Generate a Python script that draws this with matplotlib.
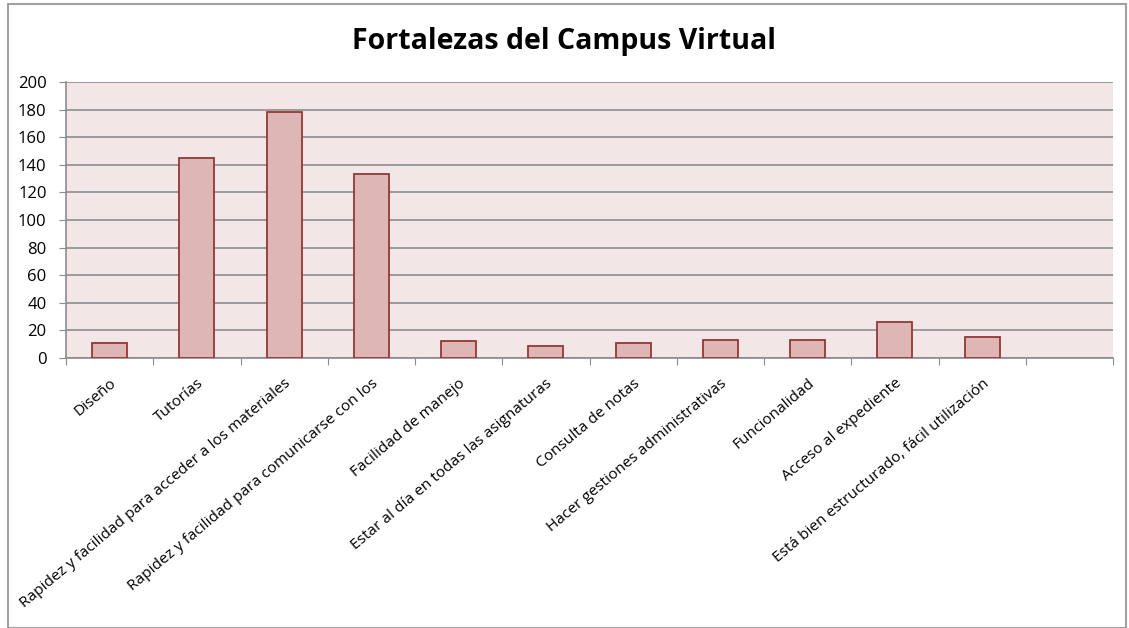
import numpy as np
import matplotlib.pyplot as plt
import matplotlib.transforms as mtransforms
from matplotlib.patches import Rectangle

plt.rcParams['font.family'] = ['Open Sans', 'DejaVu Sans']

categories = ["Diseño", "Tutorías", "Rapidez y facilidad para acceder a los materiales",
              "Rapidez y facilidad para comunicarse con los", "Facilidad de manejo",
              "Estar al día en todas las asignaturas", "Consulta de notas",
              "Hacer gestiones administrativas", "Funcionalidad", "Acceso al expediente",
              "Está bien estructurado, fácil utilización"]
values = [11, 145, 178, 133, 12, 9, 11, 13, 13, 26, 15]
n_slots = 12

fig = plt.figure(figsize=(11.29, 6.28), dpi=100)
ax = fig.add_axes([66/1129, 1 - 358/628, (1113-66)/1129, (358-82)/628])

# outer chart frame
fig.patches.append(Rectangle((8/1129, 0.0), 1 - 11/1129, 1 - 4/628, transform=fig.transFigure,
                             fill=False, edgecolor="#a0a0a0", linewidth=1.5))

x = np.arange(len(categories))
ax.set_facecolor("#f2e6e6")
ax.bar(x, values, width=0.4, color="#dfb6b6", edgecolor="#953735", linewidth=1.3, zorder=3)

ax.set_xlim(-0.5, n_slots - 0.5)
ax.set_ylim(0, 200)
ax.set_yticks(np.arange(0, 201, 20))
ax.yaxis.grid(True, color="#8c8c8c", linewidth=1.2, zorder=0)
ax.set_axisbelow(True)

ax.set_xticks(np.arange(-0.5, n_slots, 1.0))
ax.set_xticklabels([])
ax.set_xticks(x, minor=True)
ax.set_xticklabels(categories, minor=True, rotation=40, ha="right", rotation_mode="anchor",
                   fontsize=11.1)
shift = mtransforms.ScaledTranslation(4/100, 0, fig.dpi_scale_trans)
for lbl in ax.get_xticklabels(minor=True):
    lbl.set_transform(lbl.get_transform() + shift)
ax.tick_params(axis="x", which="minor", length=0, pad=13)
ax.tick_params(axis="x", which="major", length=5, color="#8c8c8c", direction="out")
ax.tick_params(axis="y", length=5, color="#8c8c8c", labelsize=12, pad=9)

for side in ["top", "right"]:
    ax.spines[side].set_visible(False)
for side in ["left", "bottom"]:
    ax.spines[side].set_color("#8c8c8c")
    ax.spines[side].set_linewidth(1.2)

fig.text(0.5, 1 - 42/628, "Fortalezas del Campus Virtual", ha="center", va="center",
         fontsize=20.5, fontweight="bold")

fig.savefig("out.png", dpi=100)
